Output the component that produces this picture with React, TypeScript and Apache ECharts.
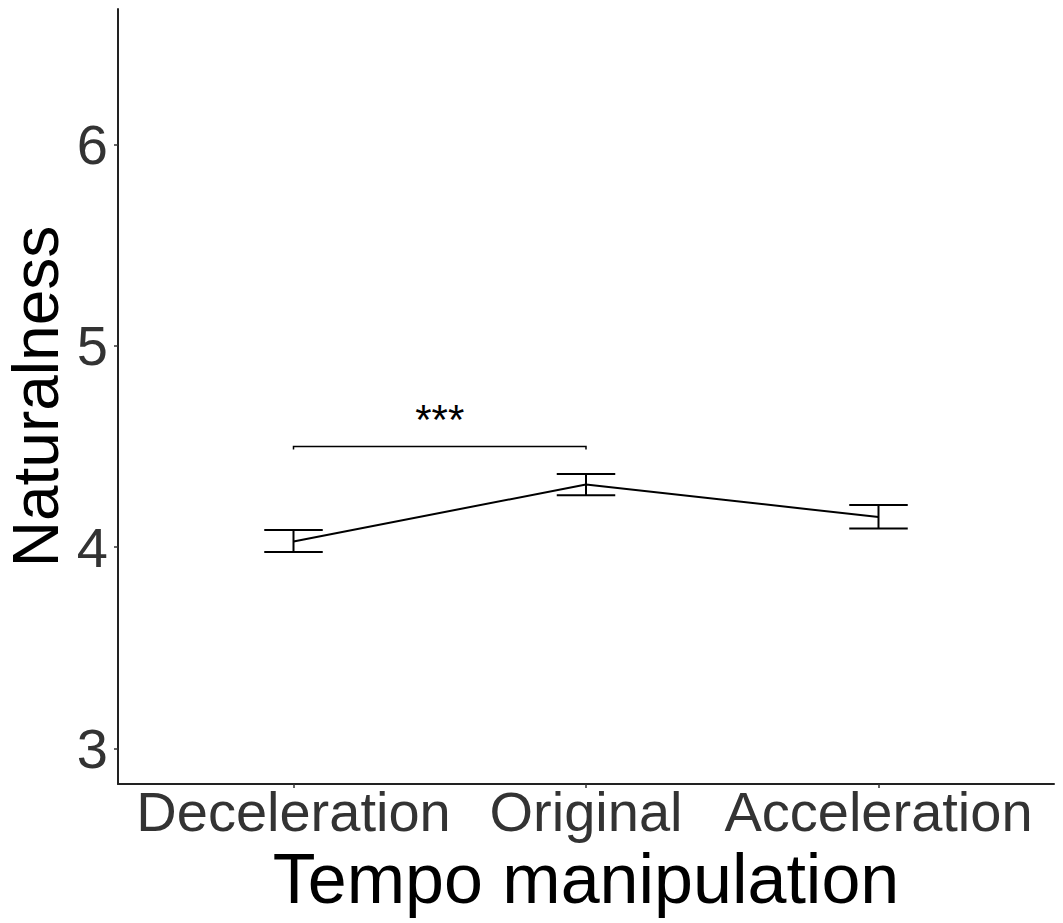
import React, { useEffect, useRef } from "react";
import * as echarts from "echarts";

const categories = ["Deceleration", "Original", "Acceleration"];
const means = [4.028, 4.311, 4.149];
const upper = [4.085, 4.363, 4.209];
const lower = [3.975, 4.257, 4.092];
const yTicks = [3, 4, 5, 6];
const xTicks = [1, 2, 3];
const sigStart = [1];
const sigEnd = [2];
const sigHeight = [4.5];
const sigLabels = ["***"];

const FONT = "'Liberation Sans', Arial, Helvetica, sans-serif";

export default function App() {
  const ref = useRef<HTMLDivElement>(null);
  useEffect(() => {
    if (!ref.current) return;
    const chart = echarts.init(ref.current, undefined, { renderer: "svg" });
    const lineData = means.map((m, i) => [xTicks[i], m]);
    const errData = means.map((_, i) => [xTicks[i], lower[i], upper[i]]);
    const sigData = sigStart.map((s, i) => [s, sigEnd[i], sigHeight[i], i]);
    chart.setOption({
      animation: false,
      backgroundColor: "#ffffff",
      grid: { left: 118, right: 9, top: 9, bottom: 139, containLabel: false, outerBoundsMode: "none" },
      xAxis: {
        type: "value",
        min: 0.4,
        max: 3.6,
        name: "Tempo manipulation",
        nameLocation: "middle",
        nameGap: 46,
        nameTextStyle: { fontFamily: FONT, fontSize: 70, color: "#000" },
        axisLine: { show: true, onZero: false, lineStyle: { color: "#222", width: 2 } },
        axisTick: { show: true, customValues: xTicks, length: 4, lineStyle: { color: "#333", width: 1.5 } },
        axisLabel: {
          customValues: xTicks,
          formatter: (v: number) => categories[Math.round(v) - 1] ?? "",
          fontFamily: FONT,
          fontSize: 56,
          color: "#333",
          margin: -1,
        },
        splitLine: { show: false },
      },
      yAxis: {
        type: "value",
        min: 2.823,
        max: 6.673,
        name: "Naturalness",
        nameLocation: "middle",
        nameGap: 50,
        nameMoveOverlap: false,
        nameTextStyle: { fontFamily: FONT, fontSize: 64, color: "#000" },
        axisLine: { show: true, onZero: false, lineStyle: { color: "#222", width: 2 } },
        axisTick: { show: true, customValues: yTicks, length: 4, lineStyle: { color: "#333", width: 1.5 } },
        axisLabel: {
          customValues: yTicks,
          fontFamily: FONT,
          fontSize: 56,
          color: "#333",
          margin: 10,
        },
        splitLine: { show: false },
      },
      series: [
        {
          type: "line",
          data: lineData,
          showSymbol: false,
          symbol: "none",
          lineStyle: { color: "#000", width: 2 },
          z: 3,
        },
        {
          type: "custom",
          data: errData,
          z: 4,
          renderItem: (params: any, api: any) => {
            const x = api.value(0);
            const lo = api.coord([x, api.value(1)]);
            const hi = api.coord([x, api.value(2)]);
            const half = api.size([0.2, 0])[0] / 2;
            const style = { stroke: "#000", lineWidth: 2 };
            return {
              type: "group",
              children: [
                { type: "line", shape: { x1: lo[0], y1: lo[1], x2: hi[0], y2: hi[1] }, style },
                { type: "line", shape: { x1: lo[0] - half, y1: lo[1], x2: lo[0] + half, y2: lo[1] }, style },
                { type: "line", shape: { x1: hi[0] - half, y1: hi[1], x2: hi[0] + half, y2: hi[1] }, style },
              ],
            };
          },
        },
        {
          type: "custom",
          data: sigData,
          z: 4,
          renderItem: (params: any, api: any) => {
            const p1 = api.coord([api.value(0), api.value(2)]);
            const p2 = api.coord([api.value(1), api.value(2)]);
            const label = sigLabels[api.value(3)];
            return {
              type: "group",
              children: [
                {
                  type: "polyline",
                  shape: { points: [[p1[0], p1[1] + 3], [p1[0], p1[1]], [p2[0], p2[1]], [p2[0], p2[1] + 3]] },
                  style: { stroke: "#000", lineWidth: 1.5, fill: "none" },
                },
                {
                  type: "text",
                  x: (p1[0] + p2[0]) / 2,
                  y: p1[1] - 27,
                  style: {
                    text: label,
                    fontFamily: FONT,
                    fontSize: 42,
                    fill: "#000",
                    align: "center",
                    verticalAlign: "middle",
                  },
                },
              ],
            };
          },
        },
      ],
    });
    return () => chart.dispose();
  }, []);
  return (
    <div
      ref={ref}
      style={{ position: "fixed", left: 0, top: 0, width: 1063, height: 923, background: "#fff" }}
    />
  );
}
